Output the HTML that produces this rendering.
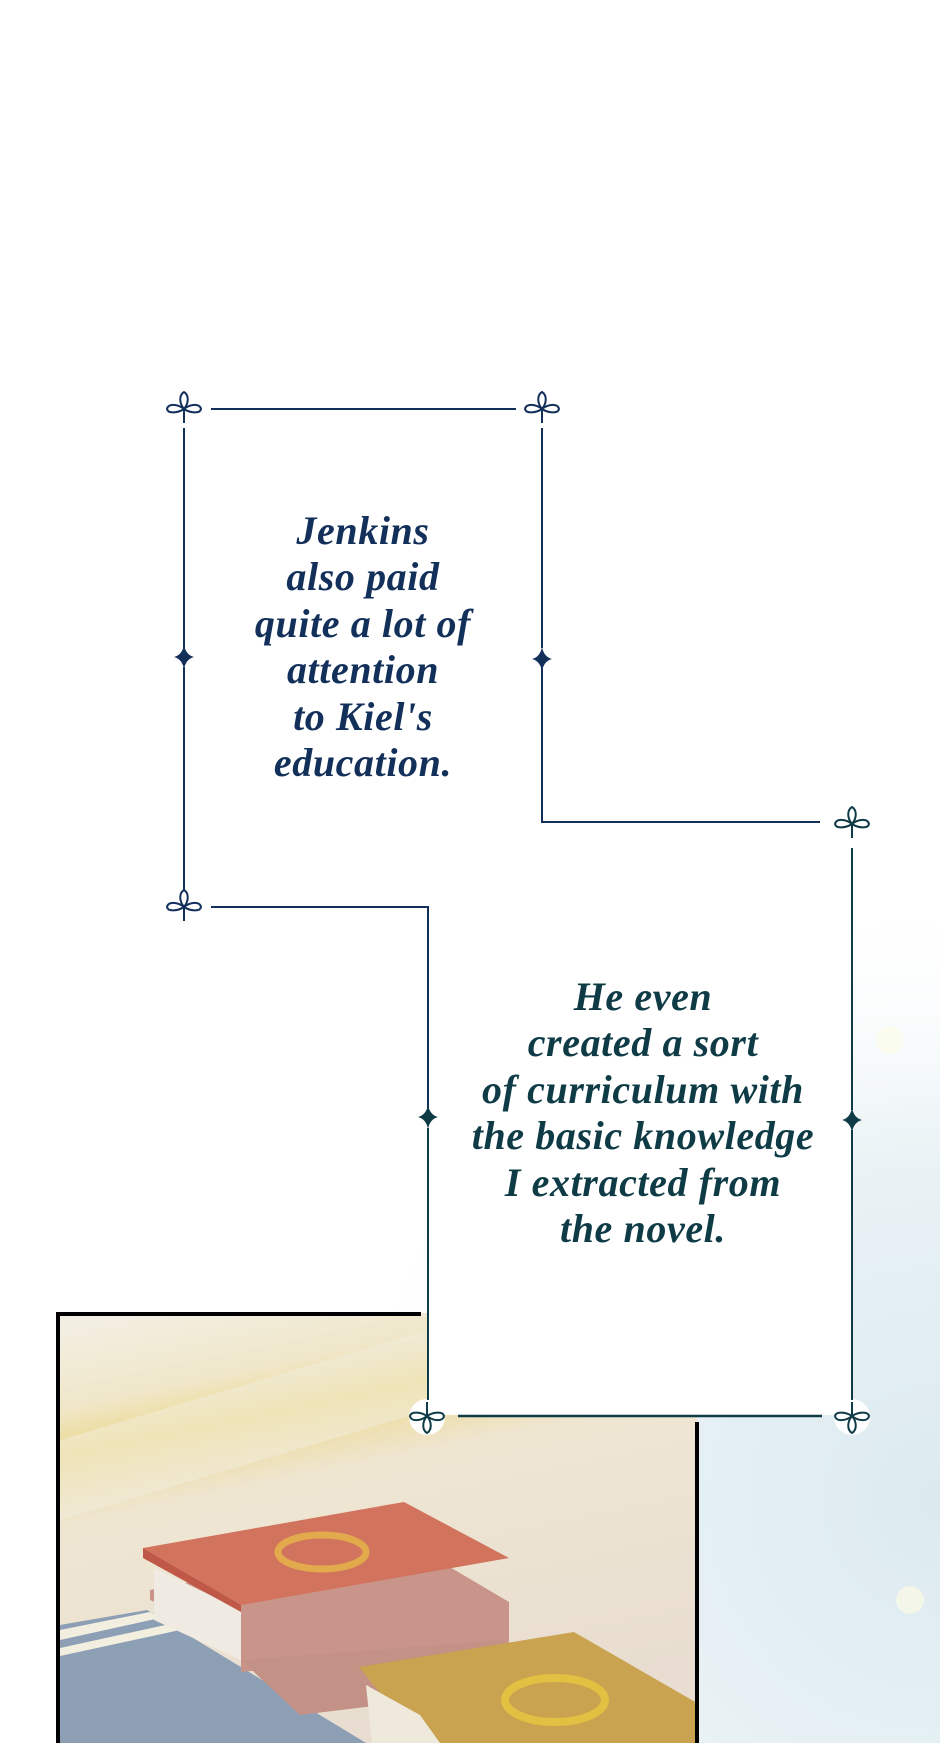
<!DOCTYPE html>
<html><head><meta charset="utf-8"><style>
html,body{margin:0;padding:0}
body{width:940px;height:1743px;position:relative;overflow:hidden;background:#fff}
.t{position:absolute;font-family:"Liberation Serif",serif;font-style:italic;font-weight:bold;font-size:40px;line-height:46.4px;text-align:center;white-space:nowrap;letter-spacing:0.6px}
</style></head><body>
<svg width="940" height="1743" style="position:absolute;left:0;top:0">
<defs>
<radialGradient id="bg" cx="940" cy="1500" r="620" gradientUnits="userSpaceOnUse">
<stop offset="0" stop-color="#dceaf0"/>
<stop offset="0.55" stop-color="#e9f2f5"/>
<stop offset="1" stop-color="#ffffff" stop-opacity="0"/>
</radialGradient>
<linearGradient id="pan" x1="0" y1="0" x2="0.3" y2="1">
<stop offset="0" stop-color="#f3efe6"/>
<stop offset="0.2" stop-color="#f0e7c9"/>
<stop offset="0.3" stop-color="#ecd98f"/>
<stop offset="0.45" stop-color="#efe6d2"/>
<stop offset="1" stop-color="#e8ddd0"/>
</linearGradient>
<g id="orn" fill="none" stroke-width="2">
<path d="M0,0 C-5,-6 -5,-14 0,-17 C5,-14 5,-6 0,0 Z"/>
<path d="M0,0 C-6,-5 -16,-6 -17,0 C-16,5 -6,4 0,0 Z"/>
<path d="M0,0 C6,-5 16,-6 17,0 C16,5 6,4 0,0 Z"/>
<path d="M0,0 L0,14"/>
</g>
<g id="star"><path d="M0,-12 Q2,-2 10,0 Q2,2 0,12 Q-2,2 -10,0 Q-2,-2 0,-12Z"/></g>
</defs>
<rect x="300" y="860" width="640" height="883" fill="url(#bg)"/>
<circle cx="890" cy="1040" r="14" fill="#fbfbe6" opacity="0.6"/>
<circle cx="910" cy="1600" r="14" fill="#fbfbe6" opacity="0.7"/>
<!-- panel -->
<rect x="58" y="1313" width="639" height="440" fill="url(#pan)"/>
<polygon points="60,1440 697,1250 697,1330 60,1520" fill="#f2eddf" opacity="0.5"/>
<!-- blue book -->
<polygon points="60,1625 147,1610 366,1743 60,1743" fill="#8d9fb5"/>
<polygon points="60,1630 150,1612 160,1618 60,1640" fill="#f3efe0"/>
<polygon points="60,1648 170,1624 180,1630 60,1656" fill="#f3efe0"/>
<!-- red book stack -->
<polygon points="150,1600 241,1640 241,1672 509,1645 509,1602 404,1540 150,1590" fill="#c9958a"/>
<polygon points="241,1660 505,1640 505,1690 300,1715" fill="#c49186"/>
<polygon points="154,1568 241,1610 241,1660 154,1620" fill="#f0ebe2"/>
<polygon points="143,1548 404,1502 509,1558 241,1605" fill="#d2735d"/>
<polygon points="143,1548 241,1605 241,1612 143,1558" fill="#c05848"/>
<ellipse cx="322" cy="1552" rx="44" ry="17" fill="none" stroke="#e6b64a" stroke-width="7" opacity="0.8"/>
<!-- yellow book -->
<polygon points="359,1667 574,1632 697,1703 697,1743 420,1743" fill="#c9a34f"/>
<polygon points="366,1685 420,1715 440,1743 372,1743" fill="#efe9dc"/>
<ellipse cx="555" cy="1700" rx="50" ry="22" fill="none" stroke="#e9c73f" stroke-width="8" opacity="0.8"/>
<!-- panel border -->
<path d="M58,1753 L58,1314 L421,1314" fill="none" stroke="#000" stroke-width="4"/>
<path d="M697,1422 L697,1753" fill="none" stroke="#000" stroke-width="4"/>
<!-- box 2 white -->
<rect x="427" y="822" width="425" height="593" fill="#fff"/>
<circle cx="427" cy="1417" r="18" fill="#fff"/>
<circle cx="852" cy="1417" r="18" fill="#fff"/>
<!-- box1 lines (navy) -->
<g stroke="#13305a" stroke-width="2" fill="none">
<line x1="211" y1="409" x2="516" y2="409"/>
<line x1="184" y1="428" x2="184" y2="648"/>
<line x1="184" y1="667" x2="184" y2="890"/>
<line x1="542" y1="428" x2="542" y2="648"/>
<polyline points="542,667 542,822 820,822"/>
<polyline points="211,907 428,907 428,1108"/>
</g>
<g stroke="#13305a" fill="#13305a">
<use href="#orn" x="184" y="409" fill="none"/>
<use href="#orn" x="542" y="409" fill="none"/>
<use href="#orn" x="184" y="907" fill="none"/>
<use href="#star" x="184" y="657" stroke="none"/>
<use href="#star" x="542" y="659" stroke="none"/>
</g>
<!-- box2 lines (teal) -->
<g stroke="#0e3b45" stroke-width="2" fill="none">
<line x1="852" y1="848" x2="852" y2="1110"/>
<line x1="852" y1="1130" x2="852" y2="1400"/>
<line x1="428" y1="1128" x2="428" y2="1400"/>
<line x1="458" y1="1416" x2="822" y2="1416" stroke-width="2.5"/>
</g>
<g stroke="#0e3b45" fill="#0e3b45">
<use href="#orn" x="852" y="824" fill="none"/>
<use href="#orn" x="427" y="1416" fill="none" transform="rotate(180 427 1416)"/>
<use href="#orn" x="852" y="1416" fill="none" transform="rotate(180 852 1416)"/>
<use href="#star" x="428" y="1117" stroke="none"/>
<use href="#star" x="852" y="1120" stroke="none"/>
</g>
</svg>
<div class="t" style="left:163px;width:400px;top:508px;color:#13305a">Jenkins<br>also paid<br>quite a lot of<br>attention<br>to Kiel's<br>education.</div>
<div class="t" style="left:443px;width:400px;top:974px;color:#0e3b45">He even<br>created a sort<br>of curriculum with<br>the basic knowledge<br>I extracted from<br>the novel.</div>
</body></html>
